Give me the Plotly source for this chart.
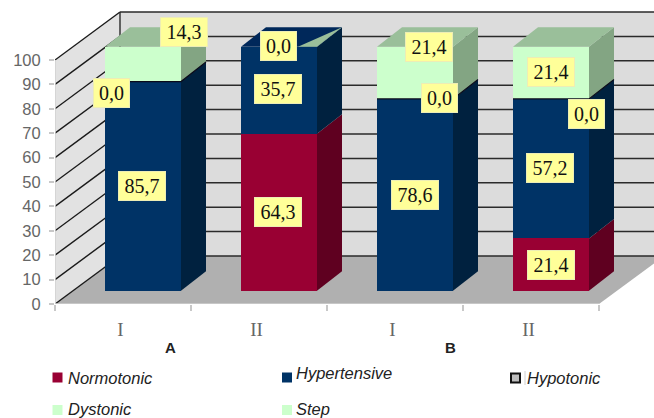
import plotly.graph_objects as go

# ---- data ----
groups = ["A", "B"]
tick_labels = ["I", "II", "I", "II"]
y_ticks = [0, 10, 20, 30, 40, 50, 60, 70, 80, 90, 100]
normotonic = [0.0, 64.3, 0.0, 21.4]
hypertensive = [85.7, 35.7, 78.6, 57.2]
hypotonic = [0.0, 0.0, 0.0, 0.0]
dystonic = [14.3, 0.0, 21.4, 21.4]

# ---- styling / geometry ----
FONT_SANS = "Liberation Sans, Arial, sans-serif"
FONT_SERIF = "Liberation Serif, Times New Roman, serif"
PX_X = 136.0
PX_Y = 2.44
LEFT = 55
BOTTOM = 304
W, H = 654, 418
BAR_W = 76 / PX_X
SHIFT_X, SHIFT_Y = 20 / PX_X, 13.3 / PX_Y
DX, DY = 25 / PX_X, 19.5 / PX_Y
WALL_X, WALL_Y = 65 / PX_X, 48 / PX_Y
X0 = -0.5
X1 = 3.5
TICK_NUDGE = 2.5 / PX_X
xr = [X0, X0 + (W - LEFT) / PX_X]
yr = [0, BOTTOM / PX_Y]


def dx(px):
    return (px - LEFT) / PX_X + X0


def dy(py):
    return (BOTTOM - py) / PX_Y


def pxp(px):
    return (px - LEFT) / (W - LEFT)


def pyp(py):
    return (BOTTOM - py) / BOTTOM


def path(pts):
    return "M " + " L ".join(f"{a},{b}" for a, b in pts) + " Z"


series = [
    ("Normotonic", normotonic, "#990033", "#5F0020", "#7a0028"),
    ("Hypertensive", hypertensive, "#003366", "#00213F", "#00285A"),
    ("Dystonic", dystonic, "#CCFFCC", "#83A583", "#9ABF9A"),
]

fig = go.Figure()
shapes = []
far = xr[1] + 1
# walls and floor
shapes.append(dict(type="path", layer="below", line_width=0, fillcolor="#DCDCDC", xref="x", yref="y",
                   path=path([(X0 + WALL_X, WALL_Y), (far, WALL_Y), (far, 100 + WALL_Y), (X0 + WALL_X, 100 + WALL_Y)])))
shapes.append(dict(type="path", layer="below", line_width=0, fillcolor="#E2E2E2", xref="x", yref="y",
                   path=path([(X0, 0), (X0 + WALL_X, WALL_Y), (X0 + WALL_X, 100 + WALL_Y), (X0, 100)])))
shapes.append(dict(type="path", layer="below", line_width=0, fillcolor="#B0B0B0", xref="x", yref="y",
                   path=path([(X0, 0), (X1, 0), (X1 + WALL_X, WALL_Y), (X0 + WALL_X, WALL_Y)])))
for v in y_ticks:
    shapes.append(dict(type="line", layer="below", xref="x", yref="y", x0=X0, y0=v,
                       x1=X0 + WALL_X, y1=v + WALL_Y, line=dict(color="#1a1a1a", width=1.4)))
    shapes.append(dict(type="line", layer="below", xref="x", yref="y", x0=X0 + WALL_X, y0=v + WALL_Y,
                       x1=far, y1=v + WALL_Y, line=dict(color="#2a2a2a", width=1.5)))
shapes.append(dict(type="line", layer="below", xref="x", yref="y", x0=X0 + WALL_X, y0=WALL_Y,
                   x1=X0 + WALL_X, y1=100 + WALL_Y, line=dict(color="#2a2a2a", width=1.4)))
shapes.append(dict(type="line", layer="below", xref="x", yref="y", x0=X0, y0=0, x1=X1, y1=0,
                   line=dict(color="#CFCFCF", width=1.5)))
shapes.append(dict(type="line", layer="below", xref="x", yref="y", x0=X0, y0=0, x1=X0, y1=100,
                   line=dict(color="#D0D0D0", width=1.5)))

# bars: front faces from stacked values, side and top faces from the same stack
xs = [i + SHIFT_X for i in range(4)]
stack = [SHIFT_Y] * 4
for idx, (name, vals, front, side, top) in enumerate(series):
    bases = list(stack)
    fig.add_trace(go.Bar(x=xs, y=vals, base=bases, width=BAR_W, name=name,
                         marker=dict(color=front, line_width=0), showlegend=False, hoverinfo="skip"))
    for i, v in enumerate(vals):
        right = xs[i] + BAR_W / 2
        b = bases[i]
        t = b + v
        if v > 0:
            fig.add_trace(go.Scatter(x=[right, right + DX, right + DX, right, right],
                                     y=[b, b + DY, t + DY, t, b], mode="lines", fill="toself",
                                     fillcolor=side, line=dict(width=0), showlegend=False, hoverinfo="skip"))
    stack = [s + v for s, v in zip(stack, vals)]
    # top face of the topmost visible segment
    for i, v in enumerate(vals):
        later = [s[1][i] for s in series[idx + 1:]]
        if v > 0 and not any(later):
            right = xs[i] + BAR_W / 2
            left = xs[i] - BAR_W / 2
            t = stack[i]
            fig.add_trace(go.Scatter(x=[left, right, right + DX, left + DX, left],
                                     y=[t, t, t + DY, t + DY, t], mode="lines", fill="toself",
                                     fillcolor=top, line=dict(width=0), showlegend=False, hoverinfo="skip"))
            if not dystonic[i]:
                # zero-height light-green series shows as a sliver on the dark top
                fig.add_trace(go.Scatter(x=[right - BAR_W * 0.25, right, right + DX, right - BAR_W * 0.25],
                                         y=[t, t, t + DY, t], mode="lines", fill="toself",
                                         fillcolor="#9ABF9A", line=dict(width=0),
                                         showlegend=False, hoverinfo="skip"))

# zero-height hypotonic segment: dark line on top of the navy block
for i, v in enumerate(hypotonic):
    if dystonic[i] > 0:
        right = xs[i] + BAR_W / 2
        left = xs[i] - BAR_W / 2
        t = SHIFT_Y + normotonic[i] + hypertensive[i] + v
        fig.add_trace(go.Scatter(x=[left, right, right + DX], y=[t, t, t + DY], mode="lines",
                                 line=dict(color="#0b0b1a", width=1.2), showlegend=False, hoverinfo="skip"))


def fmt(v):
    return f"{v:.1f}".replace(".", ",")


# value labels: (value, centre x px, centre y px)
label_spots = [
    (hypertensive[0], 142, 186), (hypotonic[0], 111, 93), (dystonic[0], 183.5, 32),
    (normotonic[1], 278, 212), (hypertensive[1], 278, 89), (dystonic[1], 278, 45.5),
    (hypertensive[2], 415, 195), (hypotonic[2], 439, 98), (dystonic[2], 429, 47),
    (normotonic[3], 550.5, 265), (hypertensive[3], 550, 168), (hypotonic[3], 586, 114), (dystonic[3], 550.5, 72),
]
annotations = []
for v, px, py in label_spots:
    annotations.append(dict(x=dx(px), y=dy(py), xref="x", yref="y", text=fmt(v), showarrow=False,
                            bgcolor="#FFFF99", bordercolor="#EDEDB5", borderwidth=1, borderpad=0,
                            width=46 if v >= 10 else 35, height=28, align="center", valign="middle",
                            font=dict(family=FONT_SERIF, size=20, color="#111111")))

# group captions
for g, px in zip(groups, [170.5, 450.5]):
    annotations.append(dict(x=pxp(px), y=pyp(347.5), xref="paper", yref="paper", text=f"<b>{g}</b>",
                            showarrow=False, xanchor="center", yanchor="middle",
                            font=dict(family=FONT_SANS, size=15, color="#222222")))

# legend: (name, swatch colour, swatch x, swatch y, text x, text y)
legend_items = [
    ("Normotonic", "#990033", 52.5, 377.5, 67.5, 377.5),
    ("Hypertensive", "#003366", 282, 377.5, 296, 373),
    ("Hypotonic", None, 510, 378, 527, 378),
    ("Dystonic", "#CCFFCC", 52.5, 410, 67.5, 408.5),
    ("Step", "#CCFFCC", 282, 410, 296, 408.5),
]
for name, color, sx, sy, tx, ty in legend_items:
    annotations.append(dict(x=pxp(tx), y=pyp(ty), xref="paper", yref="paper", text=f"<i>{name}</i>",
                            showarrow=False, xanchor="left", yanchor="middle", xshift=-2,
                            font=dict(family=FONT_SANS, size=16.5, color="#222222")))
    if color:
        shapes.append(dict(type="rect", xref="paper", yref="paper", x0=pxp(sx), x1=pxp(sx + 10),
                           y0=pyp(sy + 5), y1=pyp(sy - 5), fillcolor=color, line_width=0))
    else:
        shapes.append(dict(type="rect", xref="paper", yref="paper", x0=pxp(sx + 1), x1=pxp(sx + 10),
                           y0=pyp(sy + 4.5), y1=pyp(sy - 4.5), fillcolor="#BDBDBD",
                           line=dict(color="#111111", width=2)))
        shapes.append(dict(type="line", xref="paper", yref="paper", x0=pxp(525), x1=pxp(525),
                           y0=pyp(sy + 7), y1=pyp(sy - 7), line=dict(color="#D0D0D0", width=1)))

fig.update_layout(
    width=W, height=H, autosize=False, barmode="overlay", bargap=0,
    paper_bgcolor="white", plot_bgcolor="rgba(0,0,0,0)",
    margin=dict(l=LEFT, r=0, t=0, b=H - BOTTOM, autoexpand=False),
    shapes=shapes, annotations=annotations, showlegend=False,
    xaxis=dict(range=xr, tickmode="array", tickvals=[i - TICK_NUDGE for i in range(4)], ticktext=tick_labels,
               showgrid=False, zeroline=False, showline=False, ticks="", ticklabelstandoff=12,
               tickfont=dict(family=FONT_SERIF, size=19, color="#666666"),
               minor=dict(tickmode="array", tickvals=[-0.5, 0.5, 1.5, 2.5, 3.5], ticks="outside", ticklen=6,
                          tickcolor="#C8C8C8", tickwidth=1.5, showgrid=False)),
    yaxis=dict(range=yr, tickmode="array", tickvals=y_ticks, showgrid=False, zeroline=False, showline=False,
               ticks="outside", ticklen=5, tickcolor="#C8C8C8", tickwidth=1.5, ticklabelstandoff=5,
               tickfont=dict(family=FONT_SANS, size=16.5, color="#666666")),
)
fig.write_html("out.html", config={"displayModeBar": False},
               post_script="document.body.style.margin='0';")
